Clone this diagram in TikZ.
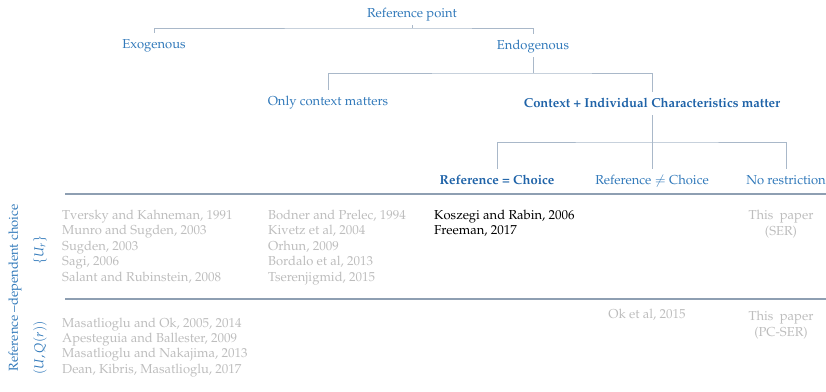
\documentclass[tikz,border=0pt]{standalone}
\usepackage[T1]{fontenc}
\usepackage{mathpazo}
\definecolor{bluetxt}{HTML}{3179BA}
\definecolor{bluebold}{HTML}{1F63A8}
\definecolor{graytxt}{HTML}{BDBDBD}
\definecolor{treeline}{HTML}{A9B8C9}
\definecolor{ruleline}{HTML}{8E9FB2}
\tikzset{
  lbl/.style={font=\fontsize{13}{15.5}\selectfont, text=bluetxt, anchor=base,
              inner xsep=0pt, inner ysep=5pt, text height=10pt, text depth=3pt},
  lblbold/.style={lbl, text=bluebold, font=\fontsize{13}{15.5}\selectfont\bfseries},
  cite/.style={font=\fontsize{13}{15.5}\selectfont, text=graytxt, anchor=base west, inner sep=0pt},
  citec/.style={cite, anchor=base},
  citeblack/.style={cite, text=black},
  side/.style={font=\fontsize{13}{15.5}\selectfont, text=bluetxt, rotate=90, inner sep=0pt},
  branch/.style={draw=treeline, line width=0.9pt},
  rowrule/.style={draw=ruleline, line width=1.1pt}
}
\begin{document}
\begin{tikzpicture}[x=1pt,y=-1pt]
\useasboundingbox (0,0) rectangle (826,391);

% classification tree
\node[lbl] (rp)   at (412,17)  {Reference point};
\node[lbl] (exo)  at (154,48)  {Exogenous};
\node[lbl] (endo) at (533,49)  {Endogenous};
\node[lbl] (only) at (328,105) {Only context matters};
\node[lblbold] (ctx) at (652,107) {Context + Individual Characteristics matter};
\node[lblbold] (eq)  at (497,184) {Reference = Choice};
\node[lbl] (neq)  at (652,184) {Reference $\neq$ Choice};
\node[lbl] (nor)  at (786,184) {No restriction};

\coordinate (j1) at (412,28);
\coordinate (j2) at (533,73);
\coordinate (j3) at (652,142);

\draw[branch] (rp.south) -- (j1);
\draw[branch] (exo.north) |- (j1) -| (endo.north);
\draw[branch] (endo.south) -- (j2);
\draw[branch] (only.north) |- (j2) -| (ctx.north);
\draw[branch] (ctx.south) -- (neq.north);
\draw[branch] (eq.north) |- (j3) -| (nor.north);

% row separators
\coordinate (r1a) at (65,194);  \coordinate (r1b) at (826,194);
\coordinate (r2a) at (65,299);  \coordinate (r2b) at (826,299);
\draw[rowrule] (r1a) -- (r1b);
\draw[rowrule] (r2a) -- (r2b);

% side labels
\node[side] (rdc) at (15,288) {Reference --dependent choice};
\node[side] (ur)  at (40,250) {$\{U_r\}$};
\node[side] (uq)  at (40,348) {$(U,Q(r))$};

% first row: {U_r}
\node[cite] (a1) at (62,219)   {Tversky and Kahneman, 1991};
\node[cite] (a2) at (62,234.5) {Munro and Sugden, 2003};
\node[cite] (a3) at (62,250)   {Sugden, 2003};
\node[cite] (a4) at (62,265.5) {Sagi, 2006};
\node[cite] (a5) at (62,281)   {Salant and Rubinstein,\ 2008};

\node[cite] (b1) at (268,219)   {Bodner and Prelec, 1994};
\node[cite] (b2) at (268,234.5) {Kivetz et al, 2004};
\node[cite] (b3) at (268,250)   {Orhun, 2009};
\node[cite] (b4) at (268,265.5) {Bordalo et al, 2013};
\node[cite] (b5) at (268,281)   {Tserenjigmid, 2015};

\node[citeblack] (c1) at (434,219)   {Koszegi and Rabin, 2006};
\node[citeblack] (c2) at (434,234.5) {Freeman, 2017};

\node[citec] (d1) at (781,219) {This\ \ paper};
\node[citec] (d2) at (781,235) {(SER)};

% second row: (U,Q(r))
\node[cite] (e1) at (62,327)   {Masatlioglu and Ok, 2005, 2014};
\node[cite] (e2) at (62,342.3) {Apesteguia and Ballester, 2009};
\node[cite] (e3) at (62,357.6) {Masatlioglu and Nakajima, 2013};
\node[cite] (e4) at (62,373)   {Dean, Kibris, Masatlioglu, 2017};

\node[citec] (f1) at (647,318) {Ok et al, 2015};
\node[citec] (g1) at (781,320) {This\ \ paper};
\node[citec] (g2) at (781,336) {(PC-SER)};
\end{tikzpicture}
\end{document}
